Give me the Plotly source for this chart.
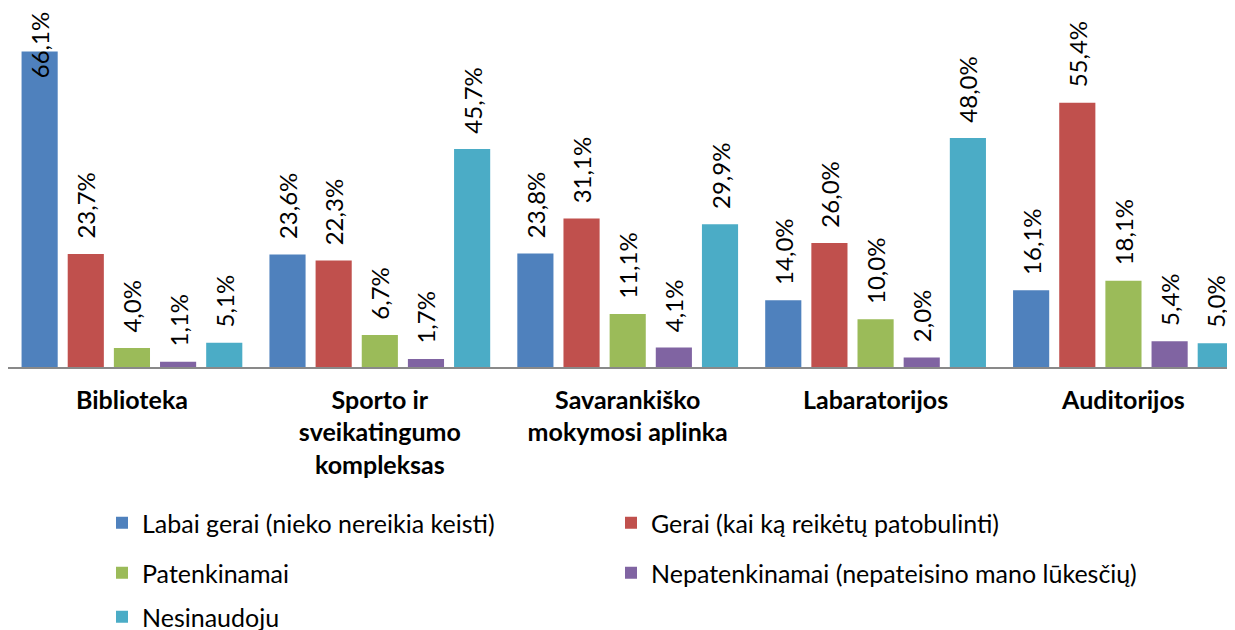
import plotly.graph_objects as go

categories = ["Biblioteka", "Sporto ir<br>sveikatingumo<br>kompleksas", "Savarankiško<br>mokymosi aplinka",
              "Labaratorijos", "Auditorijos"]
series_names = ["Labai gerai (nieko nereikia keisti)", "Gerai (kai ką reikėtų patobulinti)",
                "Patenkinamai", "Nepatenkinamai (nepateisino mano lūkesčių)", "Nesinaudoju"]
labai_gerai = [66.1, 23.6, 23.8, 14.0, 16.1]
gerai = [23.7, 22.3, 31.1, 26.0, 55.4]
patenkinamai = [4.0, 6.7, 11.1, 10.0, 18.1]
nepatenkinamai = [1.1, 1.7, 4.1, 2.0, 5.4]
nesinaudoju = [5.1, 45.7, 29.9, 48.0, 5.0]
colors = ["#4F81BD", "#C0504D", "#9BBB59", "#8064A2", "#4BACC6"]

all_series = [labai_gerai, gerai, patenkinamai, nepatenkinamai, nesinaudoju]
legend_ids = ["legend", "legend2", "legend3", "legend4", "legend5"]

FONT = "Lato"
PAD = "\u00a0\u00a0"
W, H = 1227, 622  # page body has an 8px margin
OFF = 8


def fmt(v):
    return f"{v:.1f}".replace(".", ",") + "%"


fig = go.Figure()
for i, (name, vals) in enumerate(zip(series_names, all_series)):
    texts = [PAD + fmt(v) for v in vals]
    if i == 0:
        texts[0] = ""
    fig.add_trace(go.Bar(
        x=categories, y=vals, name=name, marker=dict(color=colors[i], line=dict(width=0)),
        text=texts, textposition="outside", textangle=-90, cliponaxis=False,
        constraintext="none", textfont=dict(family=FONT, size=24, color="#000000"),
        legend=legend_ids[i], hoverinfo="skip"))

# label of the tallest bar is pulled down into the bar (as in the original)
fig.add_annotation(x=categories[0], y=labai_gerai[0], xref="x", yref="y", text=fmt(labai_gerai[0]),
                   textangle=-90, showarrow=False, yanchor="middle", xanchor="center",
                   xshift=-92.3, yshift=6, font=dict(family=FONT, size=24, color="#000000"))

leg_common = dict(orientation="h", xref="container", yref="container", xanchor="left", yanchor="middle",
                  bgcolor="rgba(0,0,0,0)", font=dict(family=FONT, size=25, color="#000000"),
                  itemclick=False)


def lx(px):
    return (px - OFF) / W


def ly(px):
    return 1 - (px - OFF) / H


col1, col2 = 102, 611
row1, row2, row3 = 523, 573, 617
fig.update_layout(
    width=W, height=H,
    margin=dict(l=0, r=0, t=33 - OFF, b=H - (367 - OFF), autoexpand=False),
    paper_bgcolor="white", plot_bgcolor="white",
    barmode="group", bargap=0.069, bargroupgap=0.217,
    showlegend=True,
    legend=dict(x=lx(col1), y=ly(row1), **leg_common),
    legend2=dict(x=lx(col2), y=ly(row1), **leg_common),
    legend3=dict(x=lx(col1), y=ly(row2), **leg_common),
    legend4=dict(x=lx(col2), y=ly(row2), **leg_common),
    legend5=dict(x=lx(col1), y=ly(row3), **leg_common),
    xaxis=dict(range=[-0.5, 4.45], showline=True, linecolor="#898989", linewidth=1.5,
               ticks="", showgrid=False, ticklabelstandoff=10, automargin=False,
               tickfont=dict(family=FONT, size=25, color="#000000", weight="bold")),
    yaxis=dict(range=[0, 70], showticklabels=False, showgrid=False, zeroline=False, showline=False,
               automargin=False),
)

fig.write_html("out.html")
